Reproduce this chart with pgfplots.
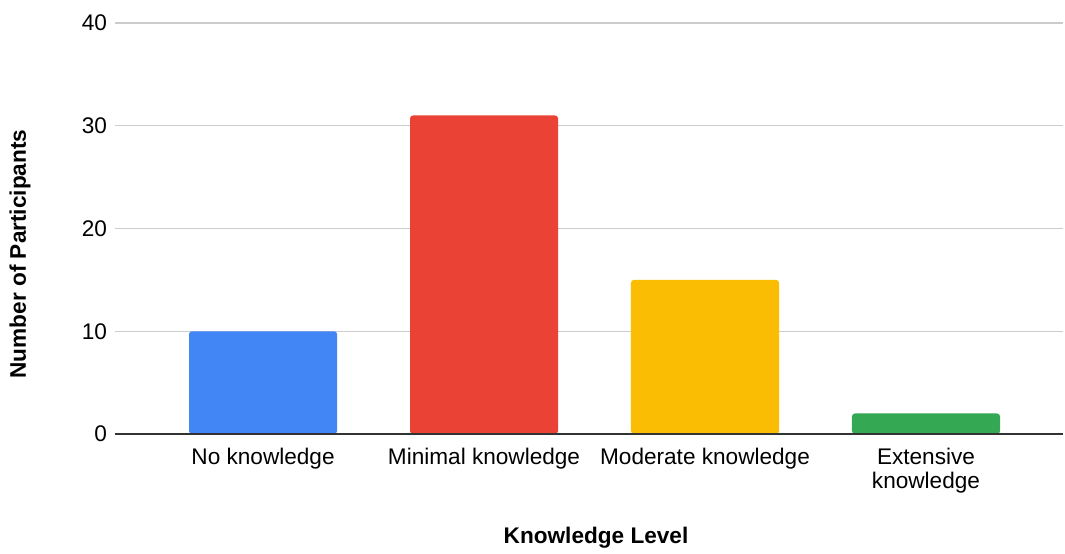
\documentclass[border=0pt]{standalone}
\usepackage{pgfplots}
\pgfplotsset{compat=1.18}
\usepackage{fontspec}
\setmainfont{Liberation Sans}
\definecolor{gblue}{HTML}{4285F4}
\definecolor{gred}{HTML}{EA4335}
\definecolor{gyellow}{HTML}{FBBC04}
\definecolor{ggreen}{HTML}{34A853}
\definecolor{ggrid}{HTML}{CCCCCC}
\begin{document}
\fontsize{11.3pt}{13pt}\selectfont
\begin{tikzpicture}
\useasboundingbox (-57.5pt,-59.5pt) rectangle (475pt,217pt);
\begin{axis}[
  scale only axis,
  width=474pt, height=205.5pt,
  xmin=-0.67, xmax=3.62,
  ymin=0, ymax=40,
  ytick={0,10,20,30,40},
  xtick={0,1,2,3},
  xticklabels={No knowledge, Minimal knowledge, Moderate knowledge, {Extensive\\knowledge}},
  xticklabel style={align=center, font=\fontsize{11.3pt}{12pt}\selectfont, yshift=-3pt},
  yticklabel style={font=\fontsize{11.3pt}{12pt}\selectfont, xshift=0pt},
  /pgf/number format/assume math mode=true,
  major tick length=0pt,
  axis line style={draw=none},
  ymajorgrids, grid style={ggrid, line width=0.6pt},
  ybar, bar width=0.67,
  clip=false,
  every axis plot/.append style={draw=none, bar shift=0pt, rounded corners=1.5pt},
]
\addplot[fill=gblue] coordinates {(0,10)};
\addplot[fill=gred] coordinates {(1,31)};
\addplot[fill=gyellow] coordinates {(2,15)};
\addplot[fill=ggreen] coordinates {(3,2)};
\draw[black!80, line width=0.7pt] (rel axis cs:0,0) -- (rel axis cs:1,0);
\end{axis}
\node[rotate=90, font=\bfseries\fontsize{11.3pt}{12pt}\selectfont] at (-47.5pt,90pt) {Number of Participants};
\node[font=\bfseries\fontsize{11.3pt}{12pt}\selectfont] at (240.5pt,-52pt) {Knowledge Level};
\end{tikzpicture}
\end{document}
